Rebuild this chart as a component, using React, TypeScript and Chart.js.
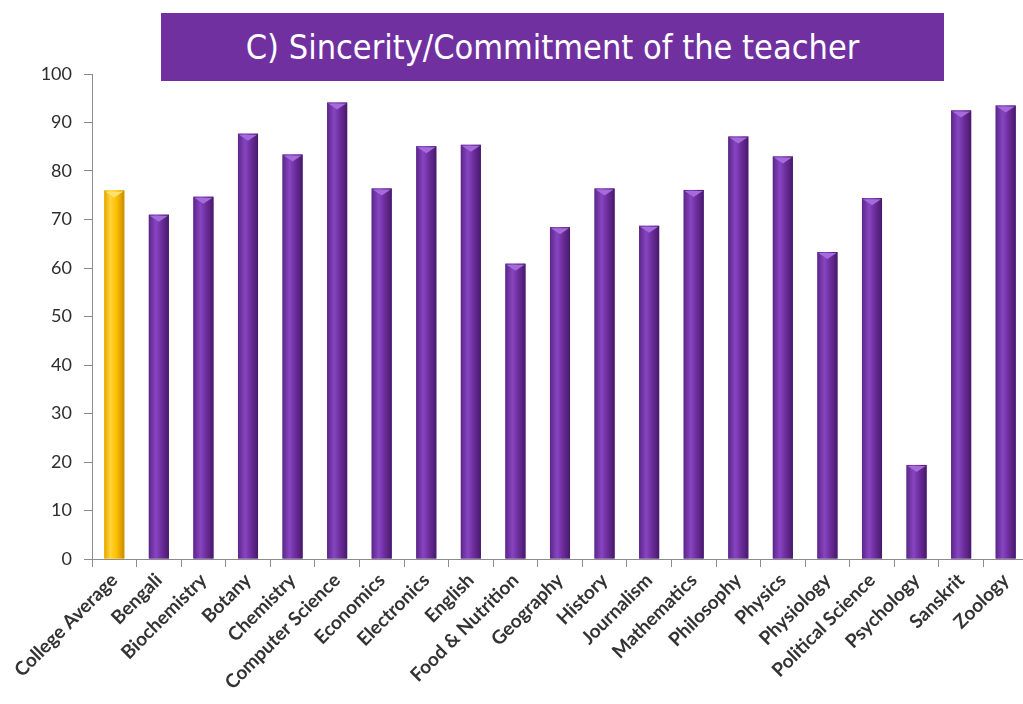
import React, { useEffect, useRef } from "react";
import { Chart, registerables } from "chart.js";

Chart.register(...registerables);

const TITLE = "C) Sincerity/Commitment of the teacher";

const categories = [
  "College Average",
  "Bengali",
  "Biochemistry",
  "Botany",
  "Chemistry",
  "Computer Science",
  "Economics",
  "Electronics",
  "English",
  "Food & Nutrition",
  "Geography",
  "History",
  "Journalism",
  "Mathematics",
  "Philosophy",
  "Physics",
  "Physiology",
  "Political Science",
  "Psychology",
  "Sanskrit",
  "Zoology",
];

const values = [
  76.0, 71.0, 74.7, 87.7, 83.4, 94.1, 76.4, 85.1, 85.4, 60.9, 68.4, 76.4, 68.7,
  76.1, 87.1, 83.0, 63.3, 74.4, 19.4, 92.5, 93.5,
];

const yTicks = [0, 10, 20, 30, 40, 50, 60, 70, 80, 90, 100];

const PURPLE = "#7030A0";
const GOLD = "#FFC000";

const cylinderPlugin = {
  id: "cylinder",
  afterDatasetsDraw(chart: any) {
    const ctx = chart.ctx;
    const meta = chart.getDatasetMeta(0);
    meta.data.forEach((el: any, i: number) => {
      const { x, y, base, width } = el.getProps(["x", "y", "base", "width"], true);
      const left = x - width / 2;
      const right = x + width / 2;
      const g = ctx.createLinearGradient(left, 0, right, 0);
      if (i === 0) {
        g.addColorStop(0, "#E3A600");
        g.addColorStop(0.3, "#FFD43A");
        g.addColorStop(0.6, "#FFC000");
        g.addColorStop(1, "#C98B00");
      } else {
        g.addColorStop(0, "#5B2688");
        g.addColorStop(0.35, "#8745C2");
        g.addColorStop(0.6, "#7030A0");
        g.addColorStop(1, "#47196B");
      }
      ctx.save();
      ctx.fillStyle = g;
      ctx.fillRect(left, y, width, base - y);
      ctx.beginPath();
      ctx.moveTo(left + 1, y + 1);
      ctx.lineTo(right - 1, y + 1);
      ctx.lineTo(x, y + 7);
      ctx.closePath();
      ctx.fillStyle = i === 0 ? "#FFE070" : "#A56BDB";
      ctx.fill();
      ctx.restore();
    });
  },
};

export default function App() {
  const canvasRef = useRef<HTMLCanvasElement | null>(null);

  useEffect(() => {
    const canvas = canvasRef.current;
    if (!canvas) return;
    const chart = new Chart(canvas, {
      type: "bar",
      data: {
        labels: categories,
        datasets: [
          {
            data: values,
            backgroundColor: categories.map((_, i) => (i === 0 ? GOLD : PURPLE)),
            borderWidth: 0,
            barPercentage: 0.45,
            categoryPercentage: 1,
          },
        ],
      },
      options: {
        responsive: false,
        animation: false,
        devicePixelRatio: 1,
        layout: { padding: { top: 74, right: 12, left: 0, bottom: 0 } },
        plugins: {
          legend: { display: false },
          title: { display: false },
          tooltip: { enabled: false },
        },
        scales: {
          x: {
            offset: true,
            grid: {
              display: true,
              offset: true,
              drawOnChartArea: false,
              drawTicks: true,
              tickLength: 8,
              color: "#8c8c8c",
            },
            border: { color: "#8c8c8c", width: 1 },
            ticks: {
              autoSkip: false,
              maxRotation: 45,
              minRotation: 45,
              padding: 2,
              color: "#333333",
              font: { family: "Lato", size: 19, weight: "bold" },
            },
            afterFit: (scale: any) => {
              scale.height = 145;
            },
          },
          y: {
            min: 0,
            max: 100,
            afterBuildTicks: (scale: any) => {
              scale.ticks = yTicks.map((v) => ({ value: v }));
            },
            grid: {
              display: true,
              drawOnChartArea: false,
              drawTicks: true,
              tickLength: 8,
              color: "#8c8c8c",
            },
            border: { color: "#8c8c8c", width: 1 },
            ticks: {
              padding: 12,
              color: "#2e2e2e",
              font: { family: "Lato", size: 18 },
            },
            afterFit: (scale: any) => {
              scale.width = 92;
            },
          },
        },
      },
      plugins: [cylinderPlugin],
    });
    return () => chart.destroy();
  }, []);

  return (
    <div
      style={{
        position: "fixed",
        left: 0,
        top: 0,
        width: 1023,
        height: 704,
        overflow: "hidden",
        background: "#ffffff",
      }}
    >
      <canvas
        ref={canvasRef}
        width={1040}
        height={704}
        style={{ position: "absolute", left: 0, top: 0, width: 1040, height: 704 }}
      />
      <div
        style={{
          position: "absolute",
          left: 161,
          top: 13,
          width: 783,
          height: 68,
          background: PURPLE,
          color: "#ffffff",
          display: "flex",
          alignItems: "center",
          justifyContent: "center",
          fontFamily: "'Liberation Sans Narrow', 'DejaVu Sans Condensed', sans-serif",
          fontSize: 34,
          lineHeight: 1,
        }}
      >
        {TITLE}
      </div>
    </div>
  );
}
